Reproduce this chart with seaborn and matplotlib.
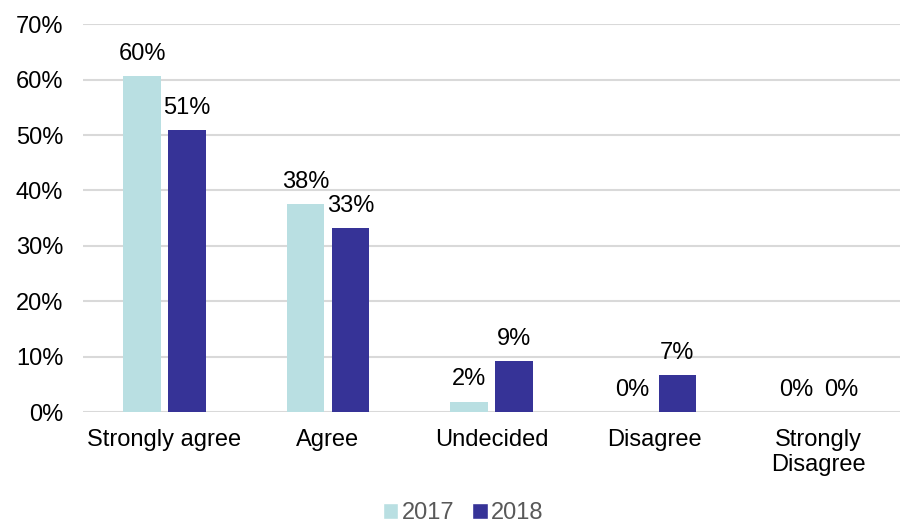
import matplotlib
matplotlib.use("Agg")
import matplotlib.pyplot as plt
import seaborn as sns
import pandas as pd
from matplotlib.patches import Patch

categories = ["Strongly agree", "Agree", "Undecided", "Disagree", "Strongly\nDisagree"]
years = ["2017", "2018"]
values_2017 = [60.6, 37.5, 1.9, 0.0, 0.0]
values_2018 = [50.9, 33.2, 9.2, 6.7, 0.0]
labels_2017 = ["60%", "38%", "2%", "0%", "0%"]
labels_2018 = ["51%", "33%", "9%", "7%", "0%"]
yticks = [0, 10, 20, 30, 40, 50, 60, 70]
colors = {"2017": "#B9DFE2", "2018": "#363397"}

df = pd.DataFrame({
    "category": categories * 2,
    "year": ["2017"] * 5 + ["2018"] * 5,
    "value": values_2017 + values_2018,
})

sns.set_style("white")
plt.rcParams["font.family"] = ["Liberation Sans", "DejaVu Sans"]

fig = plt.figure(figsize=(9.03, 5.27), dpi=100)
ax = fig.add_axes([0.0917, 0.218, 0.905, 0.736])

sns.barplot(data=df, x="category", y="value", hue="year", order=categories,
            hue_order=years, palette=colors, width=0.55, gap=0.17,
            saturation=1, linewidth=0, ax=ax, legend=False)

for cont, labs in zip(ax.containers, [labels_2017, labels_2018]):
    ax.bar_label(cont, labels=labs, padding=8, fontsize=17, color="#000000")

ax.set_ylim(0, 70)
ax.set_xlim(-0.5, 4.5)
ax.set_yticks(yticks)
ax.set_yticklabels([f"{t}%" for t in yticks])
ax.yaxis.grid(True, color="#D9D9D9", linewidth=1.5)
ax.set_axisbelow(True)
for s in ax.spines.values():
    s.set_visible(False)
ax.tick_params(axis="both", length=0, labelsize=17, colors="#000000")
ax.tick_params(axis="x", pad=12)
ax.tick_params(axis="y", pad=14)
ax.set_xlabel("")
ax.set_ylabel("")

handles = [Patch(facecolor=colors[y], label=y) for y in years]
fig.legend(handles=handles, loc="lower center", bbox_to_anchor=(0.513, -0.035),
           ncol=2, frameon=False, fontsize=17, labelcolor="#595959",
           handlelength=0.65, handleheight=0.65, handletextpad=0.15, columnspacing=0.75)

fig.savefig("out.png", dpi=100)
